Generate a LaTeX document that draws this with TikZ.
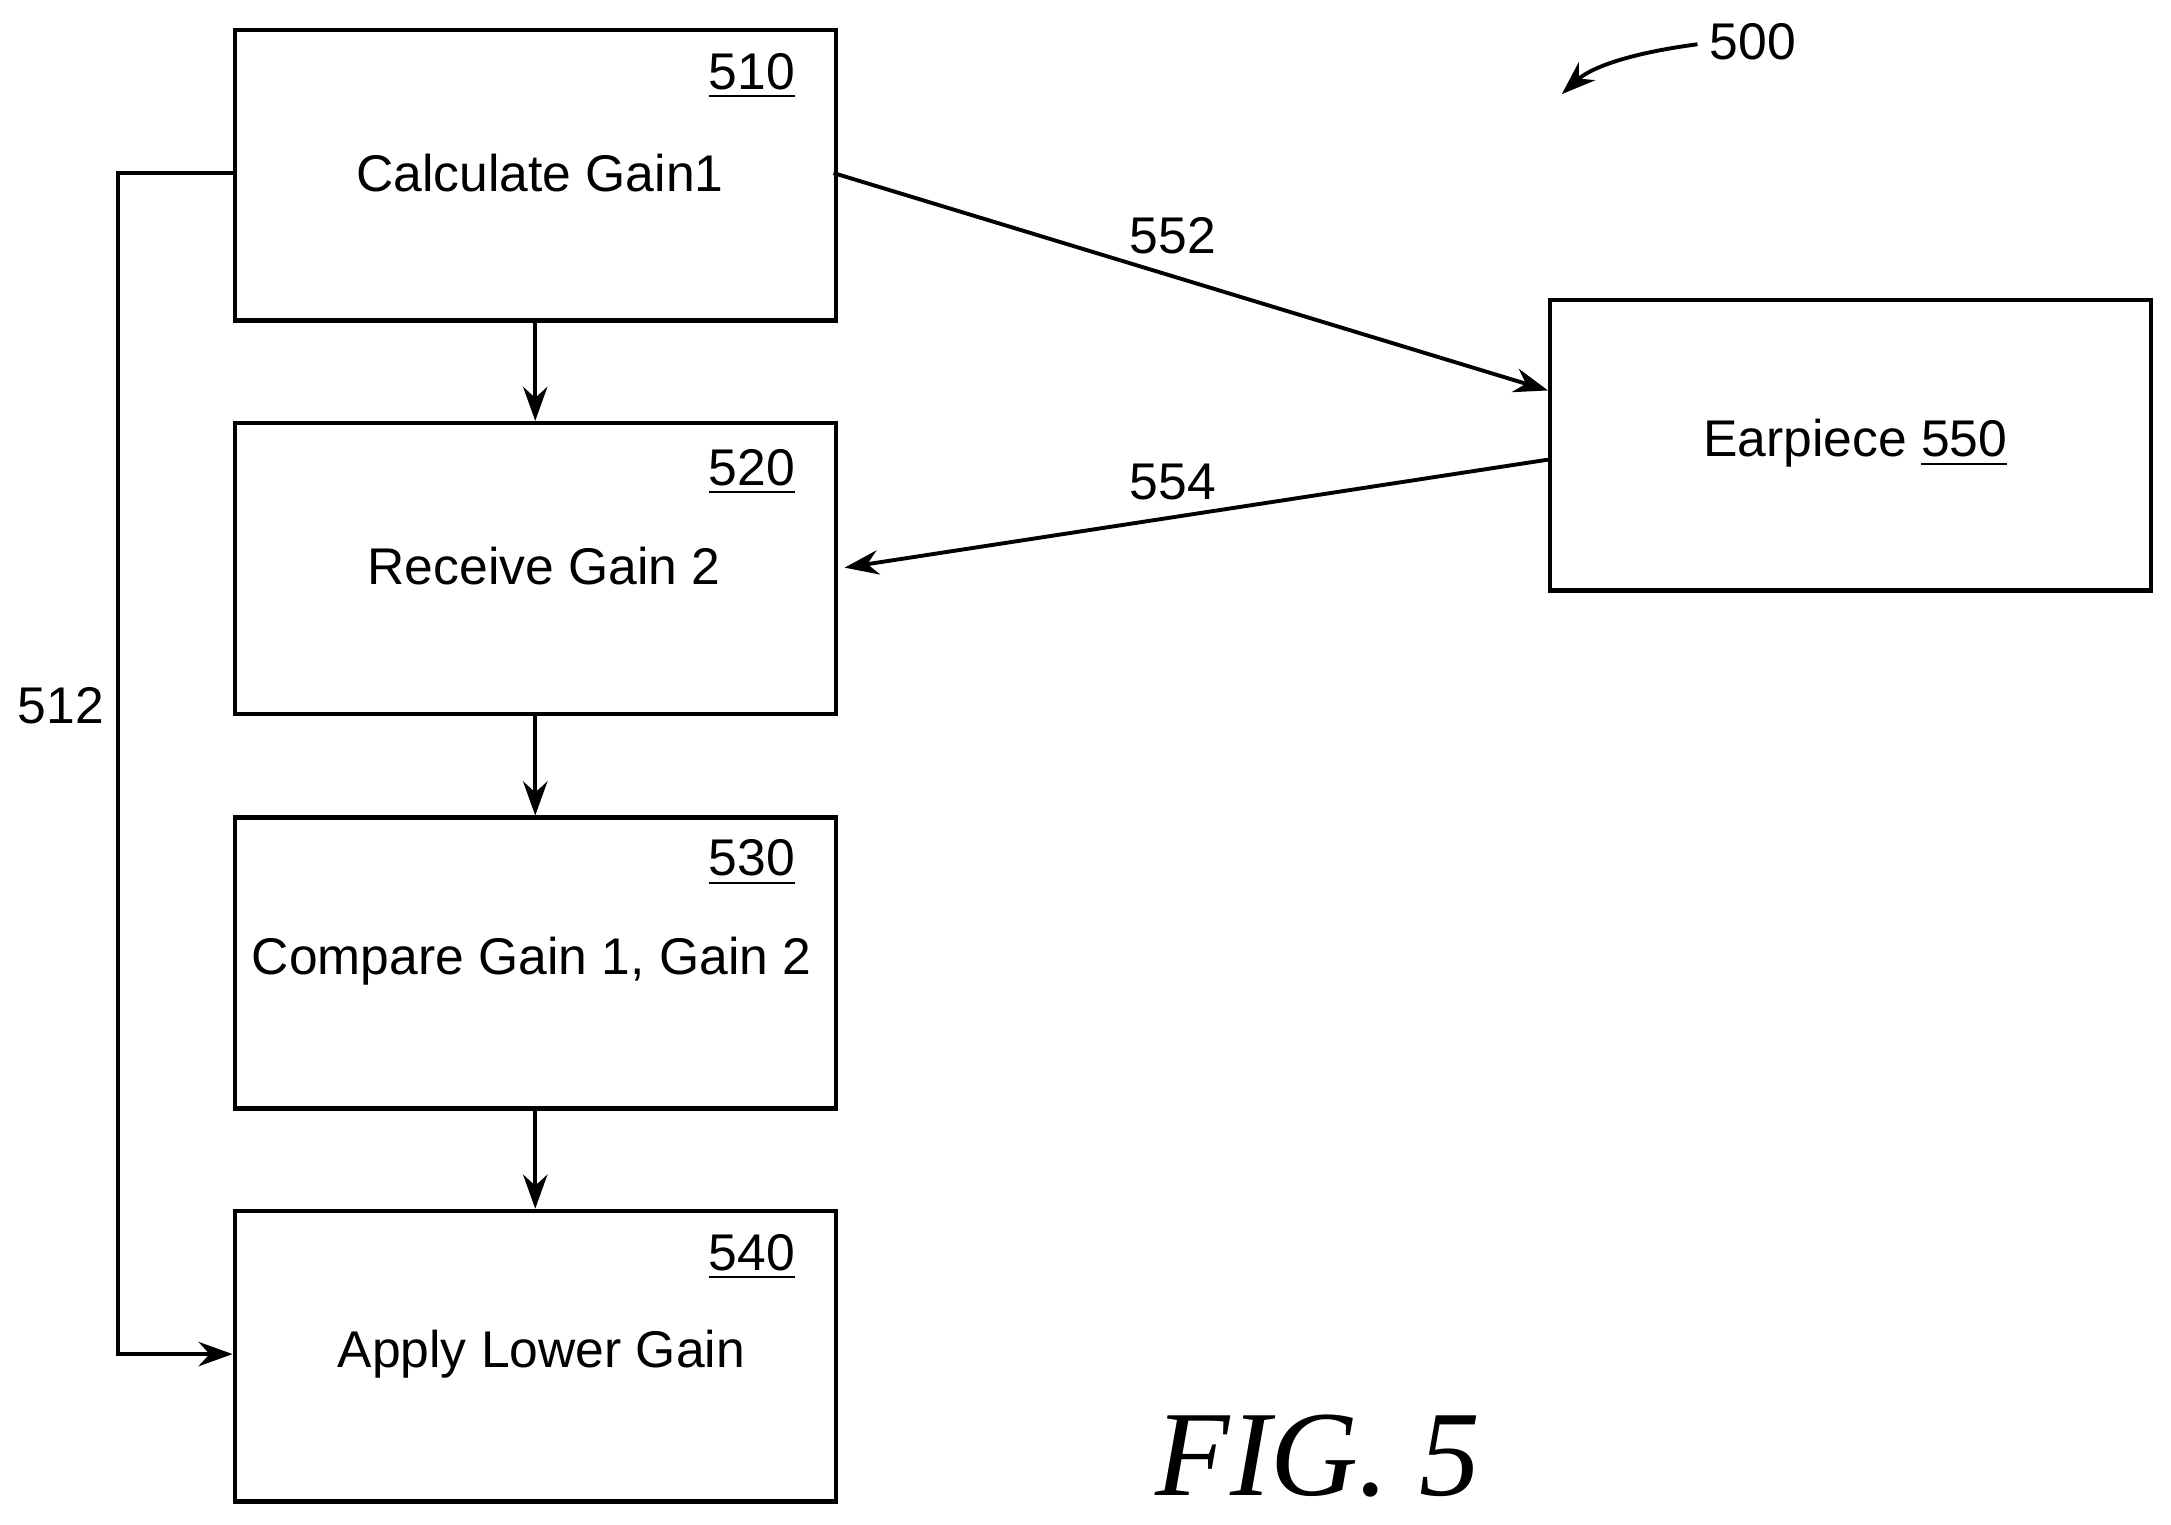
\documentclass[tikz,border=0pt]{standalone}
\usepackage{fontspec}
\setmainfont{Liberation Sans}
\newfontfamily\figfont{Liberation Serif}
\usetikzlibrary{arrows.meta}
\begin{document}
\begin{tikzpicture}[x=0.01cm,y=-0.01cm,
  box/.style={draw,line width=0.9pt,minimum width=434*0.01cm,minimum height=210*0.01cm,anchor=north west,inner sep=0pt},
  txt/.style={font=\fontsize{10.6}{13}\selectfont},
  arr/.style={line width=0.8pt,-{Stealth[length=7pt,width=5pt]}},
  ln/.style={line width=0.8pt}]
\useasboundingbox (0,0) rectangle (1568,1101);
\node[box] (b510) at (168,20) {};
\node[box] (b520) at (168,304) {};
\node[box] (b530) at (168,589) {};
\node[box] (b540) at (168,873) {};
\node[box] (b550) at (1118,215) {};
\node[txt] (n510) at (543,55) {\underline{510}};
\node[txt] (n520) at (543,341) {\underline{520}};
\node[txt] (n530) at (543,623) {\underline{530}};
\node[txt] (n540) at (543,908) {\underline{540}};
\node[txt] (t510) at (390,125) {Calculate Gain1};
\node[txt] (t520) at (393,409) {Receive Gain 2};
\node[txt] (t530) at (384,694) {Compare Gain 1, Gain 2};
\node[txt] (t540) at (391,978) {Apply Lower Gain};
\node[txt] (t550) at (1340,320) {Earpiece \underline{550}};
\draw[arr] (b510.south) -- (b520.north);
\draw[arr] (b520.south) -- (b530.north);
\draw[arr] (b530.south) -- (b540.north);
\coordinate (p1) at (602,125);
\coordinate (p2) at (1118,282);
\coordinate (p3) at (1118,332);
\coordinate (p4) at (610,410);
\draw[arr] (p1) -- (p2);
\draw[arr] (p3) -- (p4);
\node[txt] (l552) at (847,170) {552};
\node[txt] (l554) at (847,348) {554};
\coordinate (q1) at (168,125);
\coordinate (q2) at (168,978);
\draw[arr] (q1) -- (85,125) -- (85,978) -- (q2);
\node[txt] (l512) at (44,510) {512};
\node[txt] (l500) at (1266,30) {500};
\coordinate (r1) at (1226,32);
\coordinate (r2) at (1128,68);
\draw[arr] (r1) .. controls (1180,38) and (1150,48) .. (r2);
\node[font=\figfont\fontsize{25}{30}\itshape\selectfont] (fig) at (952,1052) {FIG. 5};
\end{tikzpicture}
\end{document}
